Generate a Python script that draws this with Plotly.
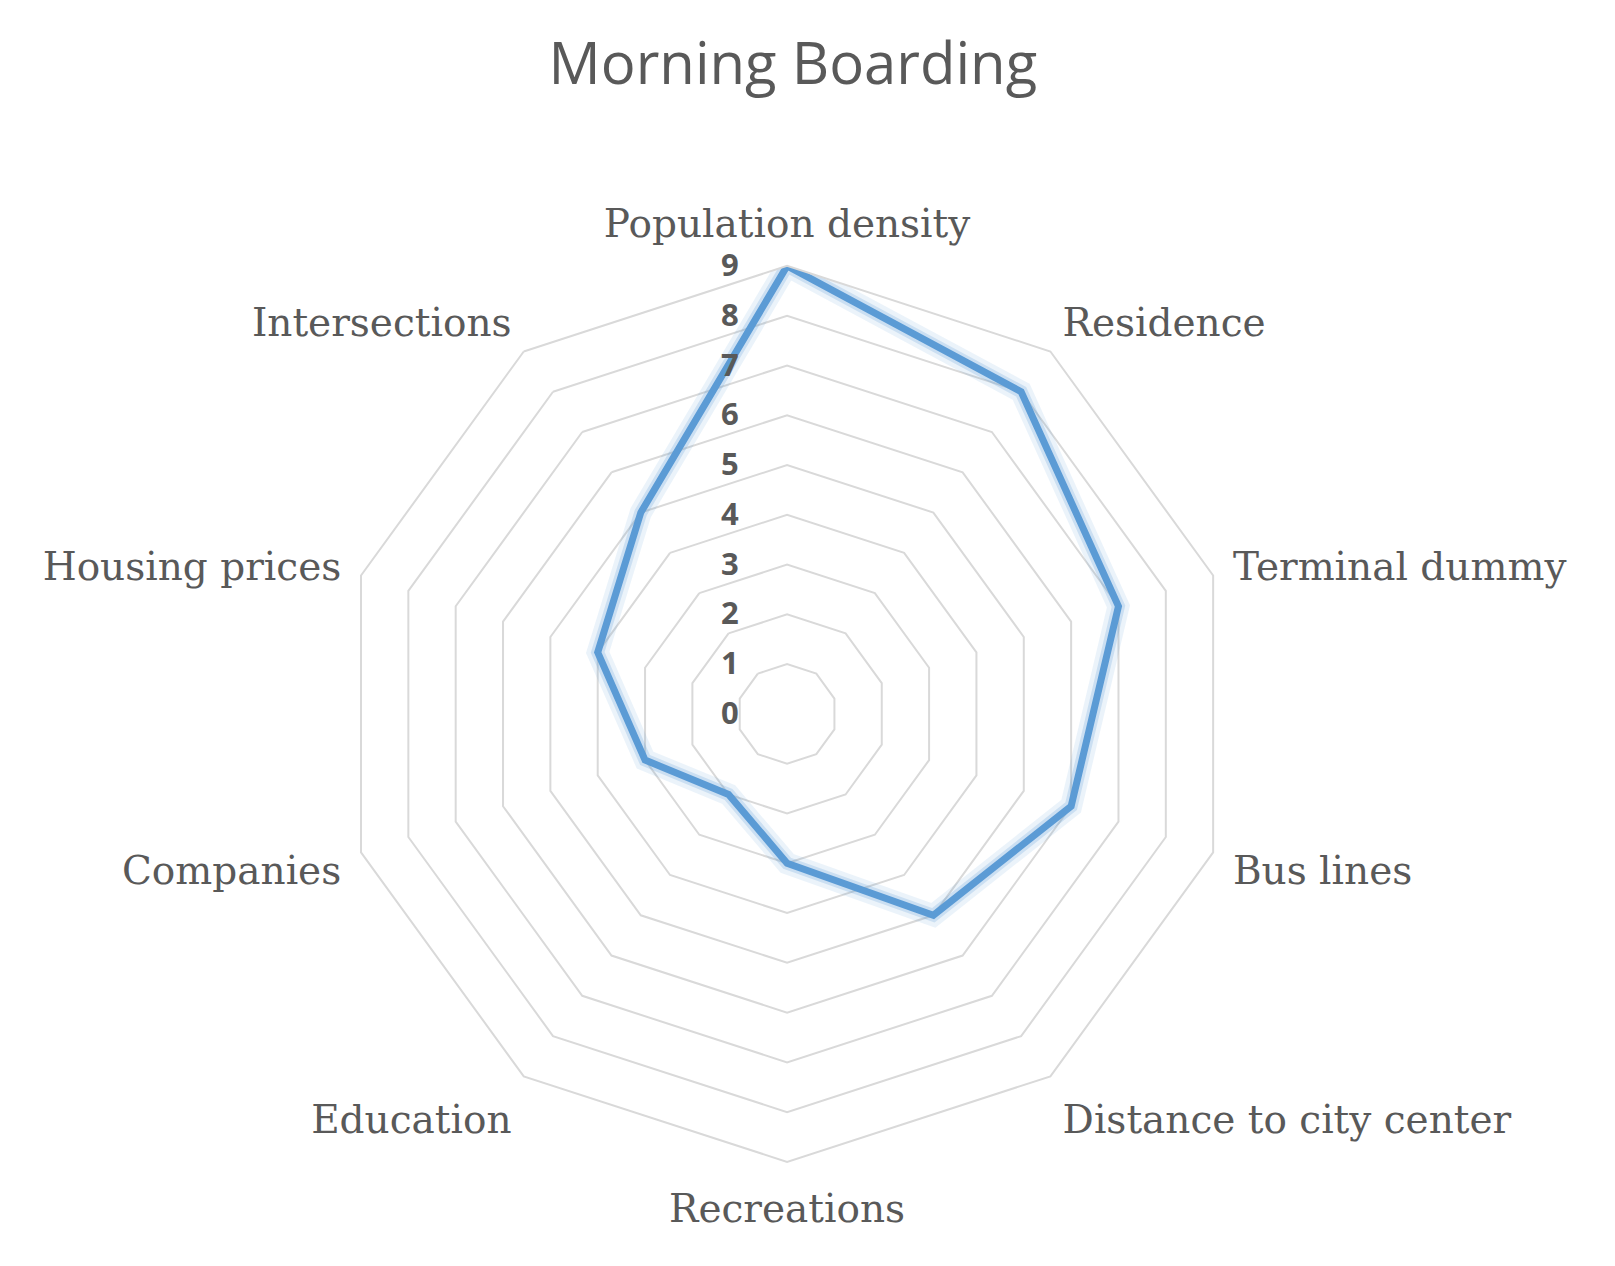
import plotly.graph_objects as go

categories = [
    "Population density", "Residence", "Terminal dummy", "Bus lines",
    "Distance to city center", "Recreations", "Education", "Companies",
    "Housing prices", "Intersections",
]
boarding = [9, 8, 7, 6, 5, 3, 2, 3, 4, 5]
radial_ticks = list(range(0, 10))

# close the polygon
theta = categories + categories[:1]
r = boarding + boarding[:1]

fig = go.Figure()
# soft glow under the line
fig.add_trace(go.Scatterpolar(
    r=r, theta=theta, mode="lines",
    line=dict(color="rgba(91,155,213,0.12)", width=22),
    hoverinfo="skip", showlegend=False,
))
fig.add_trace(go.Scatterpolar(
    r=r, theta=theta, mode="lines",
    line=dict(color="rgba(91,155,213,0.22)", width=13),
    hoverinfo="skip", showlegend=False,
))
fig.add_trace(go.Scatterpolar(
    r=r, theta=theta, mode="lines", name="Morning Boarding",
    line=dict(color="#5B9BD5", width=7),
    showlegend=False,
))

fig.update_layout(
    width=1615, height=1266,
    paper_bgcolor="white",
    margin=dict(l=0, r=0, t=0, b=0),
    title=dict(
        text="Morning Boarding", x=0.486, xanchor="center", y=0.956, yanchor="middle",
        font=dict(family="Open Sans", size=58, color="#595959"),
    ),
    polar=dict(
        domain=dict(x=[0.205, 0.7598], y=[0.0885, 0.7963]),
        bgcolor="white",
        gridshape="linear",
        radialaxis=dict(
            range=[0, 9], tickvals=radial_ticks, angle=90, tickangle=90,
            side="counterclockwise",
            showline=False, gridcolor="#D9D9D9", gridwidth=2,
            ticks="outside", ticklen=37, tickcolor="rgba(0,0,0,0)",
            tickfont=dict(family="Open Sans", size=31, color="#595959", weight="bold"),
        ),
        angularaxis=dict(
            direction="clockwise", rotation=90,
            showgrid=False, linecolor="#D9D9D9", linewidth=2,
            ticks="outside", ticklen=12, tickcolor="rgba(0,0,0,0)",
            tickfont=dict(family="DejaVu Serif", size=39, color="#595959"),
        ),
    ),
)

fig.write_html("out.html")
